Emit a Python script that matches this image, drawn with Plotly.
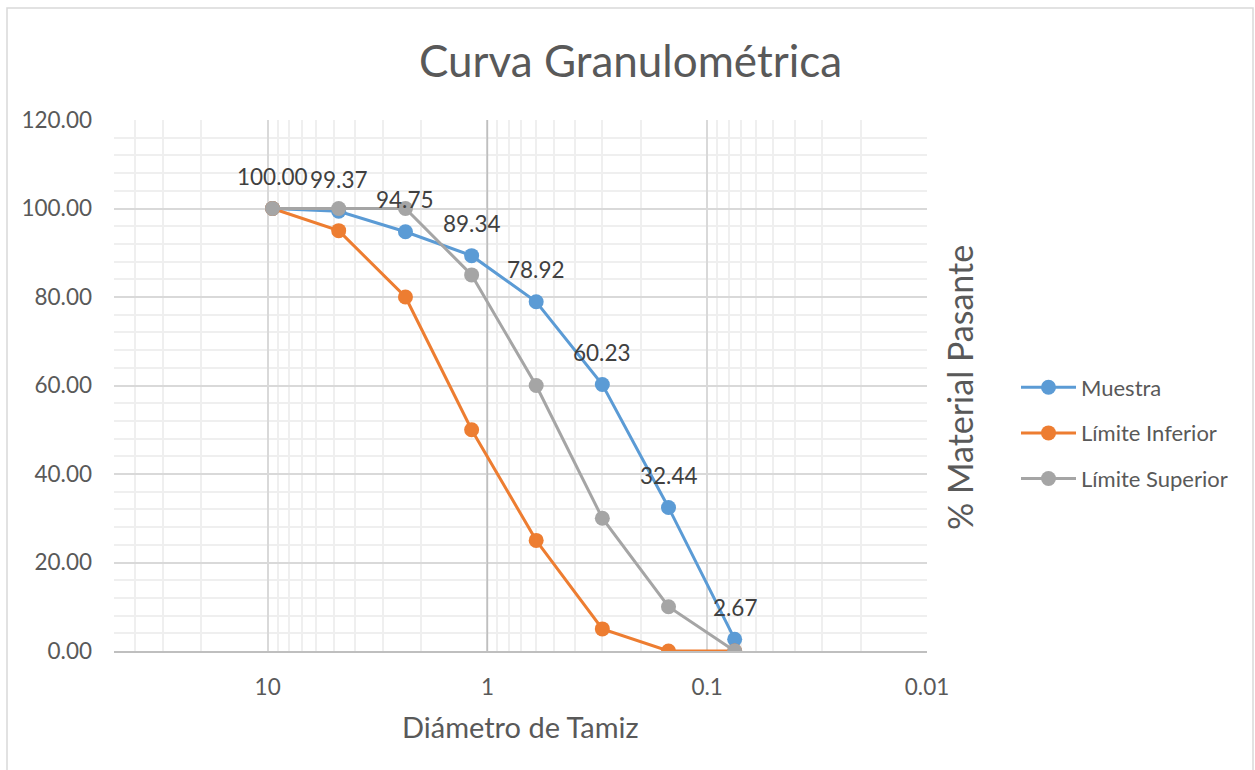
import numpy as np
import plotly.graph_objects as go

# Sieve openings (mm) and percent passing
diametros = [9.5, 4.75, 2.36, 1.18, 0.6, 0.3, 0.15, 0.075]
muestra = [100.00, 99.37, 94.75, 89.34, 78.92, 60.23, 32.44, 2.67]
limite_inferior = [100, 95, 80, 50, 25, 5, 0, 0]
limite_superior = [100, 100, 100, 85, 60, 30, 10, 0]

x_ticks = [10, 1, 0.1, 0.01]
x_tick_text = ["10", "1", "0.1", "0.01"]
y_ticks = [0, 20, 40, 60, 80, 100, 120]

FONT = "Lato"
TXT = "#595959"

W, H = 1255, 770
L, R, T, B = 114, 927, 120, 651


def px(xp):
    return (xp - L) / (R - L)


def py(yp):
    return (B - yp) / (B - T)


fig = go.Figure()

# vertical axis line crossing at x = 1
fig.add_trace(go.Scatter(x=[1, 1], y=[0, 120], mode="lines",
                         line=dict(color="#bfbfbf", width=1.5),
                         hoverinfo="skip", showlegend=False))

series = [
    ("Muestra", muestra, "#5B9BD5"),
    ("Límite Inferior", limite_inferior, "#ED7D31"),
    ("Límite Superior", limite_superior, "#A5A5A5"),
]
for name, vals, color in series:
    fig.add_trace(go.Scatter(
        x=diametros, y=vals, name=name, mode="lines+markers",
        legendgroup=name,
        line=dict(color=color, width=3),
        marker=dict(color=color, size=15),
    ))

# value labels above the sample curve
for d, v in zip(diametros, muestra):
    fig.add_annotation(x=np.log10(d), y=v, text=f"{v:.2f}", showarrow=False,
                       yshift=32, font=dict(family=FONT, size=22.5, color="#404040"))

# minor grid positions on the log axis
minor_vals = []
for dec in [0.01, 0.1, 1, 10]:
    for k in range(2, 10):
        val = k * dec
        if val <= 50:
            minor_vals.append(val)

fig.update_xaxes(
    type="log", range=[np.log10(50), -2], autorange=False,
    tickvals=x_ticks, ticktext=x_tick_text,
    showgrid=True, gridcolor="#d9d9d9", gridwidth=1.5,
    minor=dict(tickvals=minor_vals, showgrid=True, gridcolor="#efefef", gridwidth=1.5),
    showline=True, linecolor="#bfbfbf", linewidth=1.5,
    zeroline=False, ticks="", ticklabelstandoff=15,
    tickfont=dict(family=FONT, size=22.5, color=TXT),
)
fig.update_yaxes(
    range=[0, 120], autorange=False, tickvals=y_ticks, tickformat=".2f",
    showgrid=True, gridcolor="#d9d9d9", gridwidth=1.5,
    minor=dict(dtick=4, showgrid=True, gridcolor="#efefef", gridwidth=1.5),
    zeroline=False, showline=False, ticks="", ticklabelstandoff=21,
    tickfont=dict(family=FONT, size=22.5, color=TXT),
)

# titles
fig.add_annotation(xref="paper", yref="paper", x=px(630), y=py(60),
                   xanchor="center", yanchor="middle",
                   text="Curva Granulométrica", showarrow=False,
                   font=dict(family=FONT, size=44, color=TXT))
fig.add_annotation(xref="paper", yref="paper", x=px(520), y=py(726),
                   xanchor="center", yanchor="middle",
                   text="Diámetro de Tamiz", showarrow=False,
                   font=dict(family=FONT, size=29, color=TXT))
fig.add_annotation(xref="paper", yref="paper", x=px(960), y=py(387),
                   xanchor="center", yanchor="middle",
                   text="% Material Pasante", showarrow=False, textangle=-90,
                   font=dict(family=FONT, size=34, color=TXT))

# outer chart frame
fig.add_shape(type="rect", xref="paper", yref="paper",
              x0=px(7), x1=px(1253), y0=py(8), y1=py(790),
              line=dict(color="#d9d9d9", width=1.5), layer="below")

fig.update_layout(
    width=W, height=H,
    margin=dict(l=L, r=W - R, t=T, b=H - B),
    paper_bgcolor="white", plot_bgcolor="white",
    showlegend=True,
    legend=dict(x=px(1016), y=py(433), xanchor="left", yanchor="middle",
                font=dict(family=FONT, size=22, color=TXT),
                itemwidth=55, tracegroupgap=14, bgcolor="rgba(0,0,0,0)"),
)

fig.write_html("out.html")
